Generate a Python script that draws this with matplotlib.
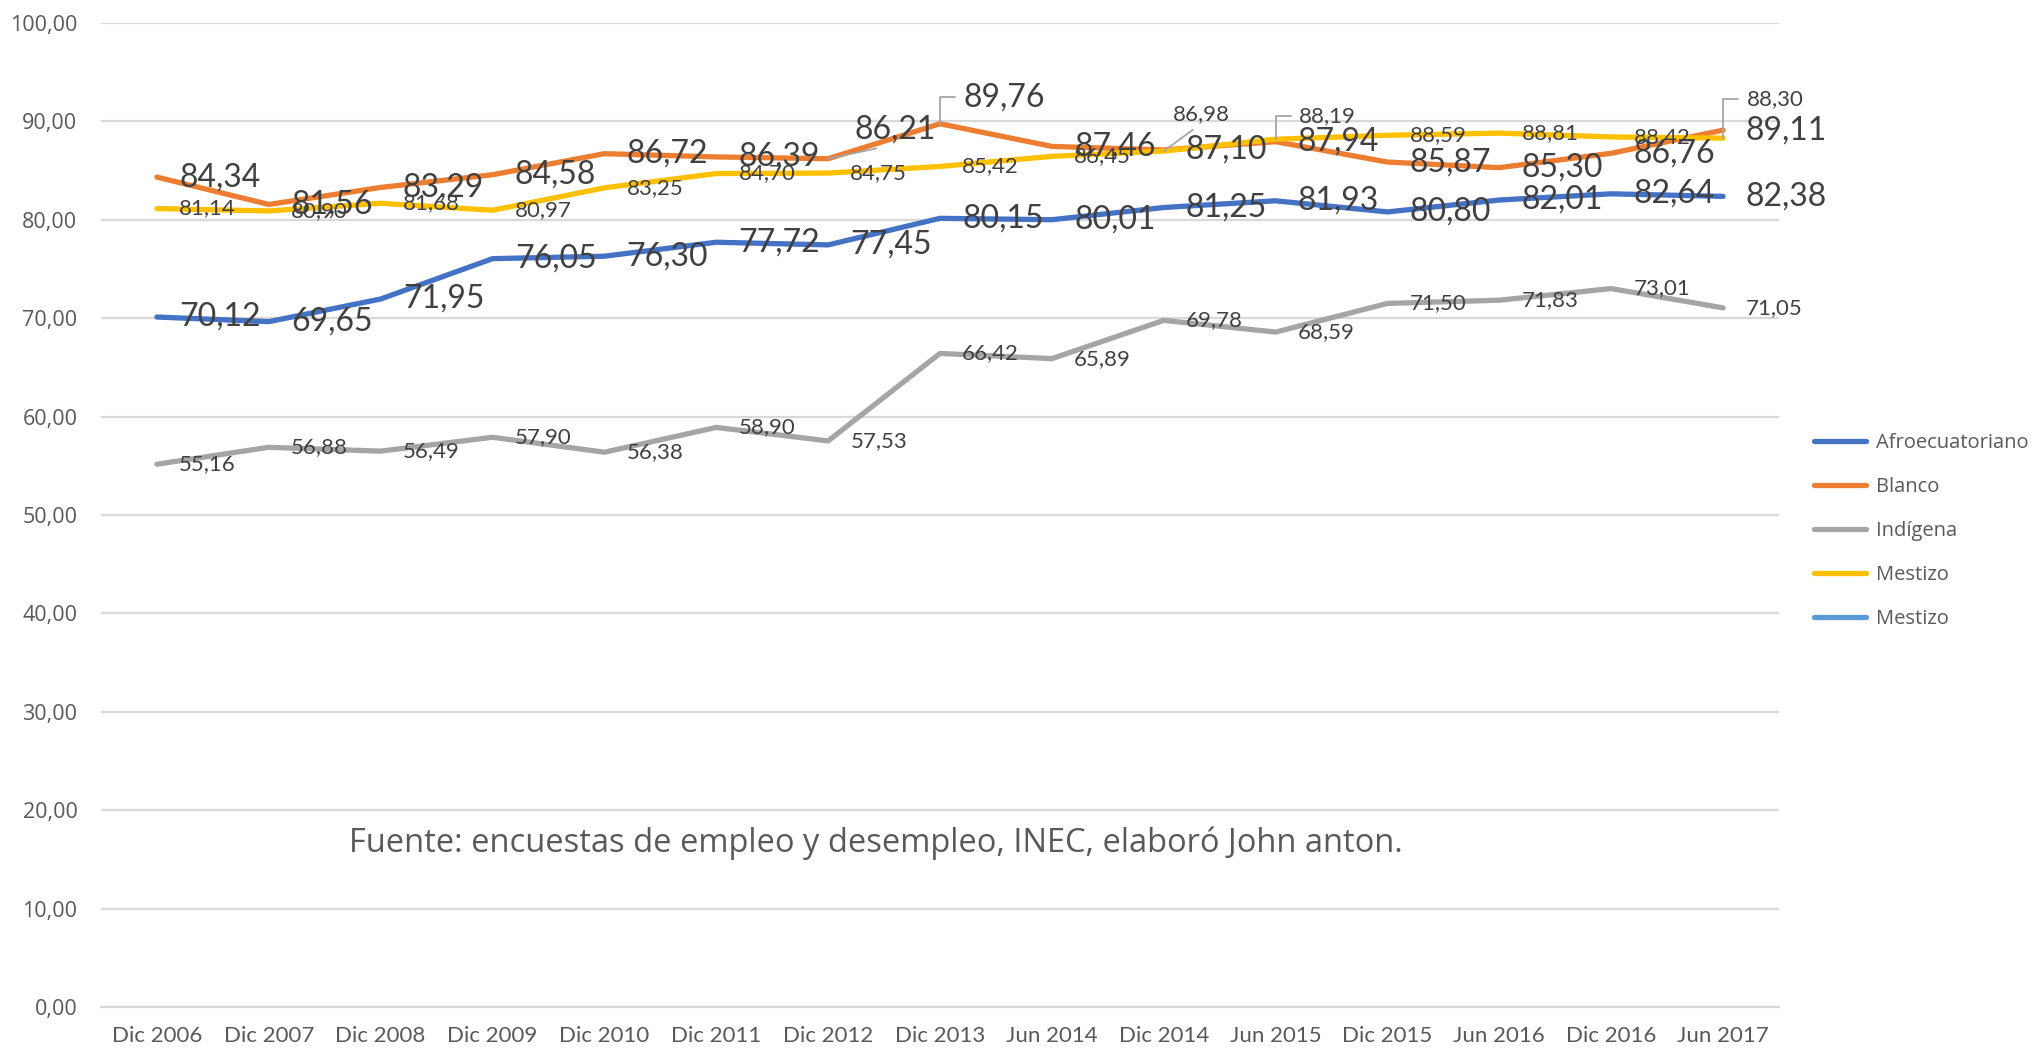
import matplotlib.pyplot as plt
from matplotlib.lines import Line2D

fechas = ['Dic 2006', 'Dic 2007', 'Dic 2008', 'Dic 2009', 'Dic 2010', 'Dic 2011',
          'Dic 2012', 'Dic 2013', 'Jun 2014', 'Dic 2014', 'Jun 2015', 'Dic 2015',
          'Jun 2016', 'Dic 2016', 'Jun 2017']
afro = [70.12, 69.65, 71.95, 76.05, 76.30, 77.72, 77.45, 80.15, 80.01, 81.25,
        81.93, 80.80, 82.01, 82.64, 82.38]
blanco = [84.34, 81.56, 83.29, 84.58, 86.72, 86.39, 86.21, 89.76, 87.46, 87.10,
          87.94, 85.87, 85.30, 86.76, 89.11]
indigena = [55.16, 56.88, 56.49, 57.90, 56.38, 58.90, 57.53, 66.42, 65.89, 69.78,
            68.59, 71.50, 71.83, 73.01, 71.05]
mestizo = [81.14, 80.90, 81.68, 80.97, 83.25, 84.70, 84.75, 85.42, 86.45, 86.98,
           88.19, 88.59, 88.81, 88.42, 88.30]
yticks = list(range(0, 101, 10))
fuente = 'Fuente: encuestas de empleo y desempleo, INEC, elaboró John anton.'

W, H = 2043, 1049
fig = plt.figure(figsize=(W / 100, H / 100), dpi=100)
ax = fig.add_axes([101 / W, 1 - 1007 / H, (1779 - 101) / W, (1007 - 23) / H])

series = [
    ('Afroecuatoriano', afro, '#4472C4', 23),
    ('Blanco', blanco, '#ED7D31', 23),
    ('Indígena', indigena, '#A5A5A5', 16),
    ('Mestizo', mestizo, '#FFC000', 16),
]

# labels that were moved by hand in the original, with leader lines
moved = {
    ('Blanco', 6): dict(off=(48, 21), ha='center', relpos=(0.5, 0), conn='arc3'),
    ('Blanco', 7): dict(off=(17, 19), ha='left', relpos=(0, 0.5),
                        conn='angle,angleA=0,angleB=90,rad=0'),
    ('Mestizo', 9): dict(off=(27, 27), ha='center', relpos=(0.5, 0), conn='arc3'),
    ('Mestizo', 10): dict(off=(17, 17), ha='left', relpos=(0, 0.5),
                          conn='angle,angleA=0,angleB=90,rad=0'),
    ('Mestizo', 14): dict(off=(17, 28), ha='left', relpos=(0, 0.5),
                          conn='angle,angleA=0,angleB=90,rad=0'),
}

x = list(range(len(fechas)))
for name, vals, color, fs in series:
    ax.plot(x, vals, color=color, lw=3.8, solid_joinstyle='round',
            solid_capstyle='round', label=name)

for name, vals, color, fs in series:
    for i, v in enumerate(vals):
        txt = f'{v:.2f}'.replace('.', ',')
        m = moved.get((name, i))
        if m is None:
            ax.annotate(txt, (i, v), xytext=(16, 0), textcoords='offset points',
                        ha='left', va='center', fontsize=fs, family='Lato',
                        color='#404040')
        else:
            ax.annotate(txt, (i, v), xytext=m['off'], textcoords='offset points',
                        ha=m['ha'], va='center', fontsize=fs, family='Lato',
                        color='#404040',
                        arrowprops=dict(arrowstyle='-', color='#A5A5A5', lw=1.3,
                                        relpos=m['relpos'], shrinkA=4, shrinkB=0,
                                        connectionstyle=m['conn']))

ax.set_xlim(-0.5, len(fechas) - 0.5)
ax.set_ylim(0, 100)
ax.set_xticks(x)
ax.set_xticklabels(fechas, family='Lato', fontsize=16, color='#595959')
ax.set_yticks(yticks)
ax.set_yticklabels([f'{t:.2f}'.replace('.', ',') for t in yticks],
                   family='Open Sans', fontsize=15.5, color='#595959')
ax.tick_params(axis='both', length=0)
ax.tick_params(axis='y', pad=17)
ax.tick_params(axis='x', pad=14)
ax.yaxis.grid(True, color='#D9D9D9', lw=1.6)
ax.set_axisbelow(True)
for s in ['top', 'right', 'left']:
    ax.spines[s].set_visible(False)
ax.spines['bottom'].set_color('#D9D9D9')
ax.spines['bottom'].set_linewidth(1.6)

handles = [Line2D([], [], color=c, lw=3.8, solid_capstyle='round') for _, _, c, _ in series]
handles.append(Line2D([], [], color='#5B9BD5', lw=3.8, solid_capstyle='round'))
labels = [s[0] for s in series] + ['Mestizo']
fig.legend(handles, labels, loc='center left', bbox_to_anchor=(1814 / W, 1 - 531 / H),
           frameon=False, borderpad=0, borderaxespad=0, handlelength=2.6,
           handletextpad=0.5, labelspacing=1.2,
           prop={'family': 'Open Sans', 'size': 14.5}, labelcolor='#595959')

fig.text(349 / W, 1 - 852 / H, fuente, family='Open Sans', fontsize=23.5,
         color='#595959', va='baseline', ha='left')

fig.savefig('out.png', dpi=100)
